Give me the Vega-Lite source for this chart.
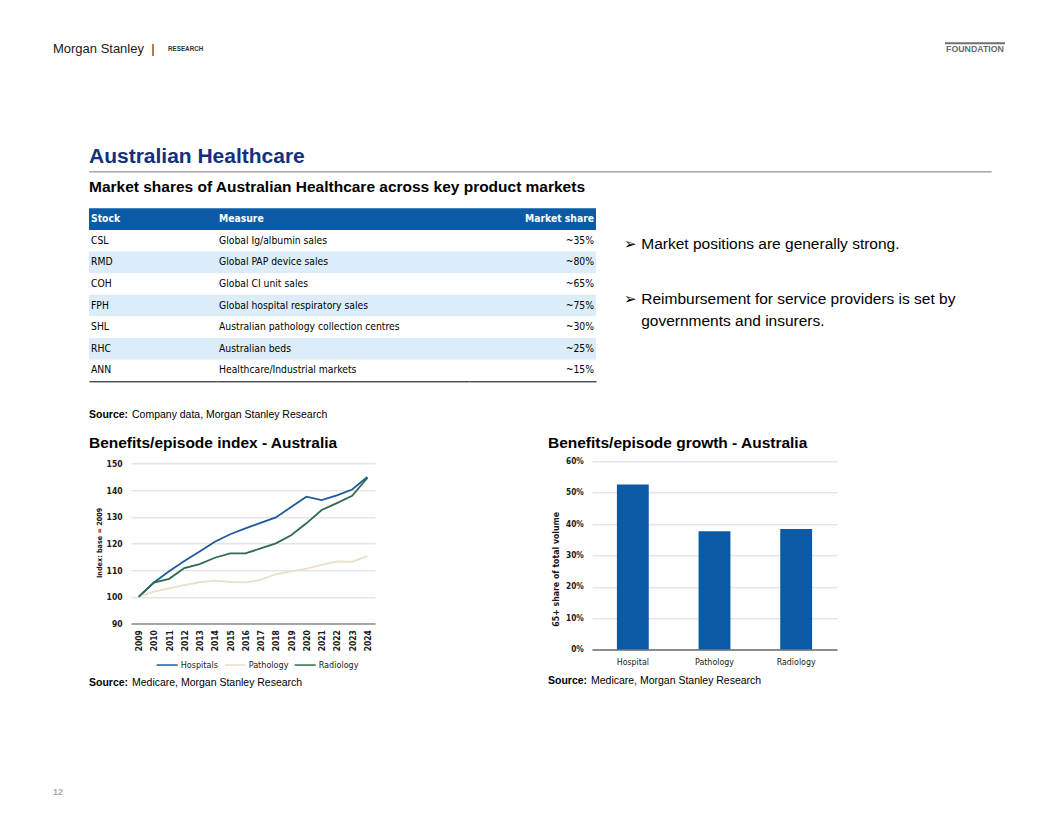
{
  "$schema": "https://vega.github.io/schema/vega-lite/v6.json",
  "background": "white",
  "padding": {"left": 53, "top": 42.3, "right": 0, "bottom": 0},
  "spacing": 0,
  "align": "each",
  "resolve": {"scale": {"color": "independent"}, "legend": {"color": "independent"}},
  "config": {
    "view": {"stroke": null},
    "font": "Liberation Sans",
    "title": {"baseline": "top", "frame": "group"}
  },
  "datasets": {
    "table": [
      {"row": 0, "column": "Stock", "text": "Stock"},
      {"row": 0, "column": "Measure", "text": "Measure"},
      {"row": 0, "column": "Market share", "text": "Market share"},
      {"row": 1, "column": "Stock", "text": "CSL"},
      {"row": 1, "column": "Measure", "text": "Global Ig/albumin sales"},
      {"row": 1, "column": "Market share", "text": "~35%"},
      {"row": 2, "column": "Stock", "text": "RMD"},
      {"row": 2, "column": "Measure", "text": "Global PAP device sales"},
      {"row": 2, "column": "Market share", "text": "~80%"},
      {"row": 3, "column": "Stock", "text": "COH"},
      {"row": 3, "column": "Measure", "text": "Global CI unit sales"},
      {"row": 3, "column": "Market share", "text": "~65%"},
      {"row": 4, "column": "Stock", "text": "FPH"},
      {"row": 4, "column": "Measure", "text": "Global hospital respiratory sales"},
      {"row": 4, "column": "Market share", "text": "~75%"},
      {"row": 5, "column": "Stock", "text": "SHL"},
      {"row": 5, "column": "Measure", "text": "Australian pathology collection centres"},
      {"row": 5, "column": "Market share", "text": "~30%"},
      {"row": 6, "column": "Stock", "text": "RHC"},
      {"row": 6, "column": "Measure", "text": "Australian beds"},
      {"row": 6, "column": "Market share", "text": "~25%"},
      {"row": 7, "column": "Stock", "text": "ANN"},
      {"row": 7, "column": "Measure", "text": "Healthcare/Industrial markets"},
      {"row": 7, "column": "Market share", "text": "~15%"}
    ],
    "index": [
      {"year": 2009, "series": "Hospitals", "value": 100},
      {"year": 2010, "series": "Hospitals", "value": 105.4},
      {"year": 2011, "series": "Hospitals", "value": 109.6},
      {"year": 2012, "series": "Hospitals", "value": 113.5},
      {"year": 2013, "series": "Hospitals", "value": 117.0},
      {"year": 2014, "series": "Hospitals", "value": 120.7},
      {"year": 2015, "series": "Hospitals", "value": 123.5},
      {"year": 2016, "series": "Hospitals", "value": 125.7},
      {"year": 2017, "series": "Hospitals", "value": 127.8},
      {"year": 2018, "series": "Hospitals", "value": 129.8},
      {"year": 2019, "series": "Hospitals", "value": 133.7},
      {"year": 2020, "series": "Hospitals", "value": 137.6},
      {"year": 2021, "series": "Hospitals", "value": 136.3},
      {"year": 2022, "series": "Hospitals", "value": 138.1},
      {"year": 2023, "series": "Hospitals", "value": 140.3},
      {"year": 2024, "series": "Hospitals", "value": 145.0},
      {"year": 2009, "series": "Pathology", "value": 100},
      {"year": 2010, "series": "Pathology", "value": 102.0},
      {"year": 2011, "series": "Pathology", "value": 103.2},
      {"year": 2012, "series": "Pathology", "value": 104.4},
      {"year": 2013, "series": "Pathology", "value": 105.5},
      {"year": 2014, "series": "Pathology", "value": 106.1},
      {"year": 2015, "series": "Pathology", "value": 105.6},
      {"year": 2016, "series": "Pathology", "value": 105.5},
      {"year": 2017, "series": "Pathology", "value": 106.4},
      {"year": 2018, "series": "Pathology", "value": 108.5},
      {"year": 2019, "series": "Pathology", "value": 109.6},
      {"year": 2020, "series": "Pathology", "value": 110.6},
      {"year": 2021, "series": "Pathology", "value": 112.0},
      {"year": 2022, "series": "Pathology", "value": 113.3},
      {"year": 2023, "series": "Pathology", "value": 113.2},
      {"year": 2024, "series": "Pathology", "value": 115.3},
      {"year": 2009, "series": "Radiology", "value": 100},
      {"year": 2010, "series": "Radiology", "value": 105.4},
      {"year": 2011, "series": "Radiology", "value": 106.8},
      {"year": 2012, "series": "Radiology", "value": 110.8},
      {"year": 2013, "series": "Radiology", "value": 112.3},
      {"year": 2014, "series": "Radiology", "value": 114.7},
      {"year": 2015, "series": "Radiology", "value": 116.3},
      {"year": 2016, "series": "Radiology", "value": 116.3},
      {"year": 2017, "series": "Radiology", "value": 118.2},
      {"year": 2018, "series": "Radiology", "value": 120.1},
      {"year": 2019, "series": "Radiology", "value": 123.1},
      {"year": 2020, "series": "Radiology", "value": 127.6},
      {"year": 2021, "series": "Radiology", "value": 132.6},
      {"year": 2022, "series": "Radiology", "value": 135.2},
      {"year": 2023, "series": "Radiology", "value": 137.9},
      {"year": 2024, "series": "Radiology", "value": 144.6}
    ],
    "growth": [
      {"category": "Hospital", "share": 0.526},
      {"category": "Pathology", "share": 0.377},
      {"category": "Radiology", "share": 0.384}
    ]
  },
  "vconcat": [
    {
      "hconcat": [
        {"width": 114.7, "height": 0.01, "data": {"values": []}, "mark": "text",
         "title": {"text": "Morgan Stanley\u00a0\u00a0|", "orient": "bottom", "anchor": "start", "offset": -0.7, "fontSize": 13, "fontWeight": "normal", "color": "#1a1a1a", "font": "Liberation Sans"}},
        {"width": 777.3, "height": 0.01, "data": {"values": []}, "mark": "text",
         "title": {"text": "RESEARCH", "orient": "bottom", "anchor": "start", "offset": 2.2, "fontSize": 6.3, "fontWeight": "bold", "color": "#333333", "font": "Liberation Sans"}},
        {"width": 58, "height": 0.01, "data": {"values": []}, "mark": "text",
         "view": {"stroke": "#707070", "strokeWidth": 2},
         "title": {"text": "FOUNDATION", "orient": "bottom", "anchor": "middle", "offset": 1.4, "fontSize": 8.8, "fontWeight": "bold", "color": "#6b6b6b", "font": "Liberation Sans"}},
        {"width": 1, "height": 16.7, "data": {"values": []}, "mark": "text"}
      ],
      "spacing": 0, "bounds": "flush"
    },
    {
      "hconcat": [
        {"width": 35.3, "height": 109.5, "data": {"values": []}, "mark": "text"},
        {"width": 600, "height": 0.01, "data": {"values": []}, "mark": "text",
         "title": {"text": "Australian Healthcare", "orient": "bottom", "anchor": "start", "offset": 86, "fontSize": 21, "fontWeight": "bold", "color": "#13307c", "font": "Liberation Sans"}}
      ],
      "spacing": 0, "bounds": "flush"
    },
    {
      "hconcat": [
        {"width": 35.3, "height": 37, "data": {"values": []}, "mark": "text"},
        {"width": 902, "height": 0.01, "data": {"values": []}, "mark": "text",
         "view": {"stroke": "#a0a0a0", "strokeWidth": 1},
         "title": {"text": "Market shares of Australian Healthcare across key product markets", "orient": "bottom", "anchor": "start", "offset": 8.5, "fontSize": 15.5, "fontWeight": "bold", "color": "#000000", "font": "Liberation Sans"}}
      ],
      "spacing": 0, "bounds": "flush"
    },
    {
      "hconcat": [
        {"width": 35.3, "height": 202, "data": {"values": []}, "mark": "text"},
        {
          "width": 128, "height": 173,
          "data": {"name": "table"},
          "transform": [{"filter": "datum.column === 'Stock'"}],
          "layer": [
            {"mark": {"type": "rect"},
             "encoding": {
               "x": {"field": "column", "type": "nominal", "scale": {"type": "band", "paddingInner": 0, "paddingOuter": 0}, "axis": {"orient": "bottom", "labels": false, "ticks": false, "title": null, "grid": false, "domain": true, "domainColor": "#000000", "domainWidth": 1}},
               "y": {"field": "row", "type": "ordinal", "scale": {"type": "band", "paddingInner": 0, "paddingOuter": 0}, "axis": null},
               "fill": {"field": "row", "type": "ordinal", "scale": {"domain": [0, 1, 2, 3, 4, 5, 6, 7], "range": ["#0a5aa6", "#ffffff", "#dcedf9", "#ffffff", "#dcedf9", "#ffffff", "#dcedf9", "#ffffff"]}, "legend": null}
             }},
            {"transform": [{"filter": "datum.row > 0"}],
             "mark": {"type": "text", "align": "left", "baseline": "middle", "dx": 2, "font": "Liberation Sans Narrow, DejaVu Sans Condensed, sans-serif", "fontSize": 10.3, "color": "#000000"},
             "encoding": {
               "x": {"field": "column", "type": "nominal", "bandPosition": 0, "scale": {"type": "band", "paddingInner": 0, "paddingOuter": 0}, "axis": {"orient": "bottom", "labels": false, "ticks": false, "title": null, "grid": false, "domain": true, "domainColor": "#000000", "domainWidth": 1}},
               "y": {"field": "row", "type": "ordinal", "scale": {"type": "band", "paddingInner": 0, "paddingOuter": 0}, "axis": null},
               "text": {"field": "text"}
             }},
            {"transform": [{"filter": "datum.row === 0"}],
             "mark": {"type": "text", "align": "left", "baseline": "middle", "dx": 2, "font": "Liberation Sans Narrow, DejaVu Sans Condensed, sans-serif", "fontSize": 10.3, "fontWeight": "bold", "color": "#ffffff"},
             "encoding": {
               "x": {"field": "column", "type": "nominal", "bandPosition": 0, "scale": {"type": "band", "paddingInner": 0, "paddingOuter": 0}, "axis": {"orient": "bottom", "labels": false, "ticks": false, "title": null, "grid": false, "domain": true, "domainColor": "#000000", "domainWidth": 1}},
               "y": {"field": "row", "type": "ordinal", "scale": {"type": "band", "paddingInner": 0, "paddingOuter": 0}, "axis": null},
               "text": {"field": "text"}
             }}
          ]
        },
        {
          "width": 252, "height": 173,
          "data": {"name": "table"},
          "transform": [{"filter": "datum.column === 'Measure'"}],
          "layer": [
            {"mark": {"type": "rect"},
             "encoding": {
               "x": {"field": "column", "type": "nominal", "scale": {"type": "band", "paddingInner": 0, "paddingOuter": 0}, "axis": {"orient": "bottom", "labels": false, "ticks": false, "title": null, "grid": false, "domain": true, "domainColor": "#000000", "domainWidth": 1}},
               "y": {"field": "row", "type": "ordinal", "scale": {"type": "band", "paddingInner": 0, "paddingOuter": 0}, "axis": null},
               "fill": {"field": "row", "type": "ordinal", "scale": {"domain": [0, 1, 2, 3, 4, 5, 6, 7], "range": ["#0a5aa6", "#ffffff", "#dcedf9", "#ffffff", "#dcedf9", "#ffffff", "#dcedf9", "#ffffff"]}, "legend": null}
             }},
            {"transform": [{"filter": "datum.row > 0"}],
             "mark": {"type": "text", "align": "left", "baseline": "middle", "dx": 2, "font": "Liberation Sans Narrow, DejaVu Sans Condensed, sans-serif", "fontSize": 10.3, "color": "#000000"},
             "encoding": {
               "x": {"field": "column", "type": "nominal", "bandPosition": 0, "scale": {"type": "band", "paddingInner": 0, "paddingOuter": 0}, "axis": {"orient": "bottom", "labels": false, "ticks": false, "title": null, "grid": false, "domain": true, "domainColor": "#000000", "domainWidth": 1}},
               "y": {"field": "row", "type": "ordinal", "scale": {"type": "band", "paddingInner": 0, "paddingOuter": 0}, "axis": null},
               "text": {"field": "text"}
             }},
            {"transform": [{"filter": "datum.row === 0"}],
             "mark": {"type": "text", "align": "left", "baseline": "middle", "dx": 2, "font": "Liberation Sans Narrow, DejaVu Sans Condensed, sans-serif", "fontSize": 10.3, "fontWeight": "bold", "color": "#ffffff"},
             "encoding": {
               "x": {"field": "column", "type": "nominal", "bandPosition": 0, "scale": {"type": "band", "paddingInner": 0, "paddingOuter": 0}, "axis": {"orient": "bottom", "labels": false, "ticks": false, "title": null, "grid": false, "domain": true, "domainColor": "#000000", "domainWidth": 1}},
               "y": {"field": "row", "type": "ordinal", "scale": {"type": "band", "paddingInner": 0, "paddingOuter": 0}, "axis": null},
               "text": {"field": "text"}
             }}
          ]
        },
        {
          "width": 127, "height": 173,
          "data": {"name": "table"},
          "transform": [{"filter": "datum.column === 'Market share'"}],
          "layer": [
            {"mark": {"type": "rect"},
             "encoding": {
               "x": {"field": "column", "type": "nominal", "scale": {"type": "band", "paddingInner": 0, "paddingOuter": 0}, "axis": {"orient": "bottom", "labels": false, "ticks": false, "title": null, "grid": false, "domain": true, "domainColor": "#000000", "domainWidth": 1}},
               "y": {"field": "row", "type": "ordinal", "scale": {"type": "band", "paddingInner": 0, "paddingOuter": 0}, "axis": null},
               "fill": {"field": "row", "type": "ordinal", "scale": {"domain": [0, 1, 2, 3, 4, 5, 6, 7], "range": ["#0a5aa6", "#ffffff", "#dcedf9", "#ffffff", "#dcedf9", "#ffffff", "#dcedf9", "#ffffff"]}, "legend": null}
             }},
            {"transform": [{"filter": "datum.row > 0"}],
             "mark": {"type": "text", "align": "right", "baseline": "middle", "dx": -2, "font": "Liberation Sans Narrow, DejaVu Sans Condensed, sans-serif", "fontSize": 10.3, "color": "#000000"},
             "encoding": {
               "x": {"field": "column", "type": "nominal", "bandPosition": 1, "scale": {"type": "band", "paddingInner": 0, "paddingOuter": 0}, "axis": {"orient": "bottom", "labels": false, "ticks": false, "title": null, "grid": false, "domain": true, "domainColor": "#000000", "domainWidth": 1}},
               "y": {"field": "row", "type": "ordinal", "scale": {"type": "band", "paddingInner": 0, "paddingOuter": 0}, "axis": null},
               "text": {"field": "text"}
             }},
            {"transform": [{"filter": "datum.row === 0"}],
             "mark": {"type": "text", "align": "right", "baseline": "middle", "dx": -2, "font": "Liberation Sans Narrow, DejaVu Sans Condensed, sans-serif", "fontSize": 10.3, "fontWeight": "bold", "color": "#ffffff"},
             "encoding": {
               "x": {"field": "column", "type": "nominal", "bandPosition": 1, "scale": {"type": "band", "paddingInner": 0, "paddingOuter": 0}, "axis": {"orient": "bottom", "labels": false, "ticks": false, "title": null, "grid": false, "domain": true, "domainColor": "#000000", "domainWidth": 1}},
               "y": {"field": "row", "type": "ordinal", "scale": {"type": "band", "paddingInner": 0, "paddingOuter": 0}, "axis": null},
               "text": {"field": "text"}
             }}
          ]
        },
        {"width": 28, "height": 0.01, "data": {"values": []}, "mark": "text"},
        {"width": 380, "height": 0.01, "data": {"values": []}, "mark": "text",
         "title": {"text": "\u27a2 Market positions are generally strong.", "subtitle": ["\u27a2 Reimbursement for service providers is set by", "\u200b\u00a0\u00a0\u00a0\u00a0governments and insurers."], "orient": "bottom", "anchor": "start", "offset": 28.3, "fontSize": 15.5, "fontWeight": "normal", "color": "#000000", "font": "Liberation Sans", "subtitleFont": "Liberation Sans", "subtitleFontSize": 15.5, "subtitleColor": "#000000", "subtitlePadding": 39.9, "subtitleLineHeight": 22}}
      ],
      "spacing": 0, "bounds": "flush"
    },
    {
      "hconcat": [
        {"width": 35.3, "height": 16, "data": {"values": []}, "mark": "text"},
        {"width": 43, "height": 0.01, "data": {"values": []}, "mark": "text",
         "title": {"text": "Source:", "orient": "bottom", "anchor": "start", "offset": 0, "fontSize": 10.5, "fontWeight": "bold", "color": "#000000", "font": "Liberation Sans"}},
        {"width": 400, "height": 0.01, "data": {"values": []}, "mark": "text",
         "title": {"text": "Company data, Morgan Stanley Research", "orient": "bottom", "anchor": "start", "offset": 0, "fontSize": 10.5, "fontWeight": "normal", "color": "#000000", "font": "Liberation Sans"}}
      ],
      "spacing": 0, "bounds": "flush"
    },
    {
      "hconcat": [
        {"width": 35.3, "height": 30, "data": {"values": []}, "mark": "text"},
        {"width": 459, "height": 0.01, "data": {"values": []}, "mark": "text",
         "title": {"text": "Benefits/episode index - Australia", "orient": "bottom", "anchor": "start", "offset": 10, "fontSize": 15.5, "fontWeight": "bold", "color": "#000000", "font": "Liberation Sans"}},
        {"width": 300, "height": 0.01, "data": {"values": []}, "mark": "text",
         "title": {"text": "Benefits/episode growth - Australia", "orient": "bottom", "anchor": "start", "offset": 10, "fontSize": 15.5, "fontWeight": "bold", "color": "#000000", "font": "Liberation Sans"}}
      ],
      "spacing": 0, "bounds": "flush"
    },
    {
      "hconcat": [
        {"width": 77.3, "height": 214, "data": {"values": []}, "mark": "text"},
        {
          "width": 244, "height": 162.3,
          "data": {"name": "index"},
          "mark": {"type": "line", "strokeWidth": 1.8},
          "encoding": {
            "x": {"field": "year", "type": "ordinal", "scale": {"type": "point", "padding": 0.5},
                  "axis": {"labelAngle": -90, "labelFont": "Liberation Sans Narrow, DejaVu Sans Condensed, sans-serif", "labelFontSize": 8.5, "labelFontWeight": "bold", "labelColor": "#1a1a1a", "labelPadding": 6, "ticks": false, "domainColor": "#a6a6a6", "domainWidth": 2, "title": null, "grid": false}},
            "y": {"field": "value", "type": "quantitative", "scale": {"domain": [90, 150.8625], "nice": false, "zero": false},
                  "axis": {"values": [90, 100, 110, 120, 130, 140, 150], "grid": true, "gridColor": "#d9d9d9", "domain": false, "ticks": false, "labelPadding": 9, "labelFont": "Liberation Sans Narrow, DejaVu Sans Condensed, sans-serif", "labelFontSize": 8.5, "labelFontWeight": "bold", "labelColor": "#1a1a1a", "title": "Index: base = 2009", "titleFont": "Liberation Sans Narrow, DejaVu Sans Condensed, sans-serif", "titleFontSize": 7.2, "titleFontWeight": "bold", "titleColor": "#1a1a1a", "titlePadding": 3}},
            "color": {"field": "series", "type": "nominal", "scale": {"domain": ["Hospitals", "Pathology", "Radiology"], "range": ["#1f5a99", "#e9e0c9", "#2e6b4c"]},
                      "legend": {"orient": "none", "legendX": 24.7, "legendY": 192, "direction": "horizontal", "title": null, "symbolType": "stroke", "symbolSize": 441, "symbolStrokeWidth": 1.5, "labelFont": "Liberation Sans Narrow, DejaVu Sans Condensed, sans-serif", "labelFontSize": 9, "labelColor": "#1a1a1a", "columnPadding": 3, "labelOffset": 2}}
          }
        },
        {"width": 217, "height": 0.01, "data": {"values": []}, "mark": "text"},
        {
          "width": 245, "height": 188.3,
          "data": {"name": "growth"},
          "mark": {"type": "bar", "color": "#0a5aa6"},
          "encoding": {
            "x": {"field": "category", "type": "nominal", "sort": null, "scale": {"paddingInner": 0.61, "paddingOuter": 0.305},
                  "axis": {"labelAngle": 0, "labelFont": "Liberation Sans Narrow, DejaVu Sans Condensed, sans-serif", "labelFontSize": 8.8, "labelColor": "#1a1a1a", "labelPadding": 8, "ticks": false, "domainColor": "#8c8c8c", "domainWidth": 2, "title": null, "grid": false}},
            "y": {"field": "share", "type": "quantitative", "scale": {"domain": [0, 0.6], "nice": false},
                  "axis": {"values": [0, 0.1, 0.2, 0.3, 0.4, 0.5, 0.6], "format": ".0%", "grid": true, "gridColor": "#d9d9d9", "domain": false, "ticks": false, "labelPadding": 8.7, "labelFont": "Liberation Sans Narrow, DejaVu Sans Condensed, sans-serif", "labelFontSize": 8.3, "labelFontWeight": "bold", "labelColor": "#1a1a1a", "title": "65+ share of total volume", "titleFont": "Liberation Sans Narrow, DejaVu Sans Condensed, sans-serif", "titleFontSize": 8.7, "titleFontWeight": "bold", "titleColor": "#1a1a1a", "titleY": 107.5, "titlePadding": 5}}
          }
        }
      ],
      "spacing": 0, "bounds": "flush",
      "resolve": {"scale": {"color": "independent"}, "legend": {"color": "independent"}}
    },
    {
      "hconcat": [
        {"width": 35.3, "height": 112.5, "data": {"values": []}, "mark": "text"},
        {"width": 43, "height": 0.01, "data": {"values": []}, "mark": "text",
         "title": {"text": "Source:", "orient": "bottom", "anchor": "start", "offset": 2.7, "fontSize": 10.5, "fontWeight": "bold", "color": "#000000", "font": "Liberation Sans"}},
        {"width": 416, "height": 0.01, "data": {"values": []}, "mark": "text",
         "title": {"text": "Medicare, Morgan Stanley Research", "orient": "bottom", "anchor": "start", "offset": 2.7, "fontSize": 10.5, "fontWeight": "normal", "color": "#000000", "font": "Liberation Sans"}},
        {"width": 43, "height": 0.01, "data": {"values": []}, "mark": "text",
         "title": {"text": "Source:", "orient": "bottom", "anchor": "start", "offset": 0.7, "fontSize": 10.5, "fontWeight": "bold", "color": "#000000", "font": "Liberation Sans"}},
        {"width": 300, "height": 0.01, "data": {"values": []}, "mark": "text",
         "title": {"text": "Medicare, Morgan Stanley Research", "orient": "bottom", "anchor": "start", "offset": 0.7, "fontSize": 10.5, "fontWeight": "normal", "color": "#000000", "font": "Liberation Sans"}}
      ],
      "spacing": 0, "bounds": "flush"
    },
    {
      "hconcat": [
        {"width": 40, "height": 0.01, "data": {"values": []}, "mark": "text",
         "title": {"text": "12", "orient": "bottom", "anchor": "start", "offset": 0, "fontSize": 9, "fontWeight": "bold", "color": "#aaaaaa", "font": "Liberation Sans"}}
      ],
      "spacing": 0, "bounds": "flush"
    }
  ]
}
